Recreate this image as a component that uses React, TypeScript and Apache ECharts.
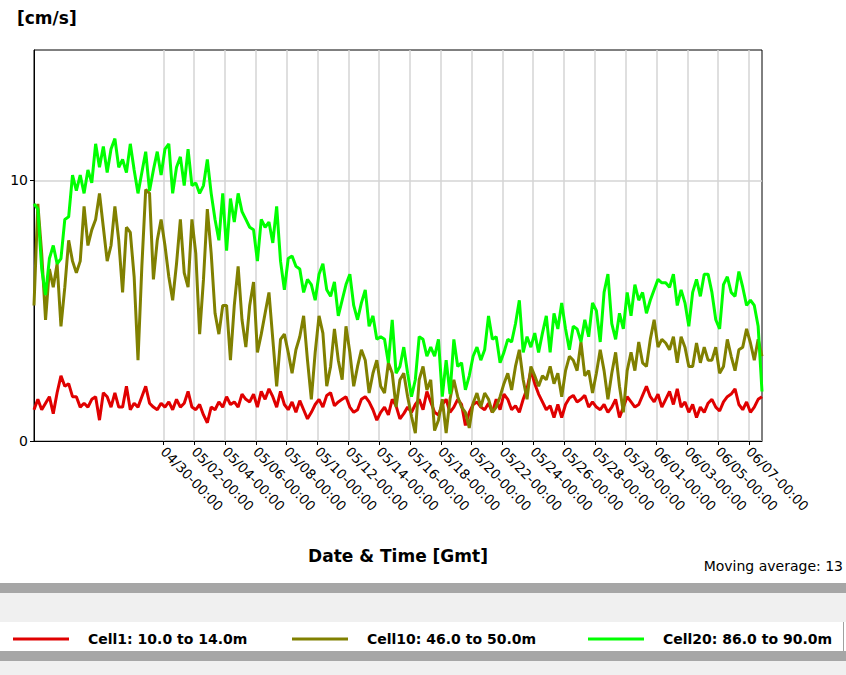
import React, { useEffect, useRef } from "react";
import * as echarts from "echarts";

// Series names and colours
const seriesNames = ["Cell1: 10.0 to 14.0m", "Cell10: 46.0 to 50.0m", "Cell20: 86.0 to 90.0m"];
const seriesColors = ["#e00000", "#808000", "#00ff00"];

// Sampling: days relative to 04/30-00:00 (first sample) and step in days
const startDay = -8.4;
const stepDay = 0.25;

// Speed [cm/s], moving average 13
const cell1 = [
  1.2, 1.6, 1.2, 1.45, 1.7, 1.05, 1.85, 2.5, 2.1, 2.2,
  1.7, 1.7, 1.3, 1.45, 1.3, 1.6, 1.7, 0.8, 1.85, 1.7,
  1.3, 1.85, 1.3, 1.3, 2.1, 1.2, 1.45, 1.3, 1.7, 2.1,
  1.45, 1.3, 1.2, 1.45,
  1.3, 1.5, 1.2, 1.6, 1.3, 1.45, 1.9, 1.3, 1.2, 1.4,
  1.0, 0.7, 1.3, 1.2, 1.5, 1.3, 1.7, 1.4, 1.5, 1.3,
  1.8, 1.6, 1.5, 1.8, 1.3, 1.9, 1.6, 2.0, 1.7, 1.3,
  1.9, 1.4, 1.2,
  1.5, 1.1, 1.55, 1.2, 0.85, 1.1, 1.4, 1.6, 1.3, 1.75,
  1.85, 1.35, 1.5, 1.6, 1.7, 1.3, 1.1, 1.2, 1.6, 1.7,
  1.5, 1.2, 0.8, 1.1, 1.3, 1.0, 1.6, 1.35, 0.85, 1.05,
  1.3, 1.1, 1.4,
  1.6, 1.2, 1.9, 1.5, 1.1, 1.0, 1.4, 1.6, 1.1, 1.3,
  1.6, 1.4, 0.6, 1.1, 1.4, 1.5, 1.3, 1.2, 1.45, 1.1,
  1.6, 1.2, 1.8, 1.6, 1.2, 1.35, 1.1, 1.6, 2.0, 2.7,
  2.2, 1.8,
  1.5, 1.2, 1.35, 0.9, 1.4, 0.9, 1.4, 1.65, 1.75, 1.5,
  1.6, 1.75, 1.3, 1.5, 1.3, 1.2, 1.4, 1.1, 1.3, 1.6,
  0.9, 1.3, 1.7, 1.5, 1.3, 1.4, 1.75, 2.1, 1.7, 1.5,
  1.8, 1.3,
  1.6, 1.9, 1.4, 2.0, 1.3, 1.5, 1.1, 1.4, 0.9, 1.3,
  1.1, 1.45, 1.6, 1.3, 1.15, 1.5, 1.7, 1.8, 2.0, 1.4,
  1.2, 1.5, 1.1, 1.3, 1.6, 1.7,
];
const cell10 = [
  5.2, 9.1, 7.2, 4.65, 6.6, 5.9, 6.8, 4.4, 5.9, 7.7,
  6.9, 6.45, 6.9, 9.0, 7.5, 8.1, 8.5, 9.5, 8.2, 6.9,
  7.5, 9.0, 7.7, 5.7, 8.2, 8.0, 6.3, 3.1, 6.7, 9.65,
  9.5, 6.2, 7.7, 8.5,
  7.5, 6.3, 5.4, 6.8, 8.5, 6.45, 5.9, 8.5, 7.2, 4.1,
  6.2, 8.9, 7.2, 4.9, 4.1, 5.2, 5.2, 3.1, 5.2, 6.7,
  4.65, 3.6, 5.2, 6.1, 3.4, 4.1, 4.9, 5.7, 3.9, 2.1,
  3.9, 4.1, 3.4,
  2.6, 3.5, 4.0, 4.8, 3.1, 1.6, 3.4, 4.8, 4.14, 2.1,
  2.86, 4.3, 3.1, 2.35, 4.4, 3.4, 2.1, 2.86, 3.5, 3.1,
  1.84, 2.6, 3.1, 2.1, 1.84, 3.0, 2.6, 1.3, 2.35, 2.6,
  1.7, 0.95, 0.3,
  2.35, 2.86, 1.96, 2.35, 0.4, 0.8, 1.6, 0.3, 1.6, 2.35,
  1.7, 1.3, 1.1, 0.5, 1.45, 1.84, 1.3, 1.84, 1.6, 1.1,
  1.3, 1.7, 2.2, 2.6, 1.96, 2.86, 3.5, 2.35, 1.6, 2.86,
  2.5, 2.1,
  2.5, 2.35, 2.86, 2.2, 2.6, 1.7, 2.7, 3.25, 3.1, 2.7,
  3.8, 2.5, 2.7, 1.84, 2.6, 3.5, 2.7, 1.6, 2.6, 3.4,
  2.1, 1.1, 2.7, 3.4, 2.7, 3.8, 3.0, 2.86, 3.9, 4.65,
  3.6, 3.9,
  3.76, 3.5, 4.0, 3.0, 4.0, 3.6, 2.86, 2.86, 3.76, 3.0,
  3.6, 3.1, 3.1, 3.6, 2.6, 2.86, 3.9, 3.25, 2.7, 3.5,
  3.6, 4.3, 3.76, 3.1, 3.9, 3.25,
];
const cell20 = [
  9.1, 8.9, 6.6, 5.6, 7.0, 7.5, 6.8, 7.0, 8.5, 8.6,
  10.2, 9.6, 10.2, 9.5, 10.4, 9.9, 11.4, 10.5, 11.3, 10.3,
  11.2, 11.6, 10.5, 10.8, 10.3, 11.4, 10.4, 9.5, 10.3, 11.1,
  9.6, 10.4, 11.1, 10.2,
  11.2, 11.4, 9.5, 10.5, 10.9, 9.8, 11.2, 9.8, 9.9, 9.5,
  9.8, 10.8, 9.5, 8.5, 7.7, 9.5, 7.3, 9.3, 8.4, 9.5,
  8.8, 8.5, 8.2, 8.1, 6.9, 8.5, 8.2, 8.4, 7.6, 9.0,
  6.9, 5.8, 7.0,
  7.1, 6.7, 6.6, 5.7, 6.2, 6.0, 5.4, 6.4, 6.8, 5.8,
  5.55, 6.1, 4.8, 5.4, 6.0, 6.4, 5.2, 4.65, 5.3, 5.8,
  4.4, 4.8, 3.9, 4.0, 3.9, 3.0, 4.65, 2.6, 2.86, 3.6,
  2.6, 1.7, 2.35,
  4.0, 3.9, 3.25, 3.6, 3.25, 3.9, 1.7, 3.1, 1.8, 3.9,
  2.86, 3.0, 1.96, 2.5, 3.25, 3.6, 3.1, 3.5, 4.8, 3.9,
  4.0, 3.0, 3.4, 3.9, 3.8, 4.5, 5.4, 3.4, 4.0, 3.6,
  4.14, 3.4,
  4.14, 4.8, 3.4, 4.9, 4.3, 5.3, 4.3, 3.5, 4.4, 4.3,
  3.8, 4.65, 4.0, 5.3, 5.0, 3.8, 5.7, 6.4, 4.5, 3.9,
  4.9, 4.3, 5.7, 4.8, 6.0, 5.4, 5.7, 4.9, 5.4, 5.8,
  6.2, 6.07,
  6.07, 5.9, 6.4, 5.2, 5.8, 5.3, 4.4, 5.7, 6.2, 5.55,
  6.4, 6.4, 5.7, 4.65, 4.3, 6.0, 6.3, 5.7, 5.55, 6.5,
  5.9, 5.2, 5.4, 5.2, 4.4, 1.9,
];

// X ticks (days from 04/30-00:00) and their labels
const tickDays = [0, 2, 4, 6, 8, 10, 12, 14, 16, 18, 20, 22, 24, 26, 28, 30, 32, 34, 36, 38];
const tickLabels = [
  "04/30-00:00", "05/02-00:00", "05/04-00:00", "05/06-00:00", "05/08-00:00",
  "05/10-00:00", "05/12-00:00", "05/14-00:00", "05/16-00:00", "05/18-00:00",
  "05/20-00:00", "05/22-00:00", "05/24-00:00", "05/26-00:00", "05/28-00:00",
  "05/30-00:00", "06/01-00:00", "06/03-00:00", "06/05-00:00", "06/07-00:00",
];
const yTicks = [0, 10];

export default function App() {
  const ref = useRef<HTMLDivElement>(null);
  useEffect(() => {
    if (!ref.current) return;
    const chart = echarts.init(ref.current, null, { renderer: "svg" });
    const hatch = "#a6a6a6";
    const all = [cell1, cell10, cell20];
    const xMax = startDay + stepDay * (cell1.length - 1);
    const legendLefts = [8, 287, 583];
    const font = "DejaVu Sans";

    chart.setOption({
      animation: false,
      backgroundColor: "#ffffff",
      grid: {
        left: 34,
        top: 50,
        width: 728,
        height: 391,
        show: true,
        borderColor: "#000",
        borderWidth: 1,
        backgroundColor: "transparent",
      },
      xAxis: {
        type: "value",
        min: startDay,
        max: xMax,
        axisLine: { show: true, onZero: false, lineStyle: { color: "#000", width: 1 } },
        axisTick: { show: true, length: 4, customValues: tickDays, lineStyle: { color: "#000" } },
        axisLabel: {
          customValues: tickDays,
          rotate: -46,
          margin: 8,
          color: "#000",
          fontFamily: font,
          fontSize: 13.5,
          formatter: (v: number) => {
            const i = tickDays.indexOf(Math.round(v));
            return i >= 0 ? tickLabels[i] : "";
          },
        },
        splitLine: { show: true, lineStyle: { color: "#d4d4d4", width: 1.5 } },
        name: "Date & Time [Gmt]",
        nameLocation: "middle",
        nameGap: 106,
        nameTextStyle: { fontFamily: font, fontWeight: "bold", fontSize: 17, color: "#000" },
      },
      yAxis: {
        type: "value",
        min: 0,
        max: 15,
        axisLine: { show: true, onZero: false, lineStyle: { color: "#000", width: 1 } },
        axisTick: { show: true, length: 4, customValues: yTicks, lineStyle: { color: "#000" } },
        axisLabel: { customValues: yTicks, margin: 6, color: "#000", fontFamily: font, fontSize: 14 },
        splitLine: { show: true, lineStyle: { color: "#d4d4d4", width: 1.5 } },
      },
      legend: seriesNames.map((n, i) => ({
        data: [n],
        left: legendLefts[i],
        top: 627,
        icon: "rect",
        itemWidth: 56,
        itemHeight: 3,
        selectedMode: false,
        textStyle: { fontFamily: font, fontWeight: "bold", fontSize: 14, color: "#000", padding: [0, 0, 0, 14] },
      })),
      series: all.map((vals, i) => ({
        type: "line",
        name: seriesNames[i],
        data: vals.map((v, j) => [startDay + j * stepDay, v]),
        showSymbol: false,
        symbol: "none",
        lineStyle: { color: seriesColors[i], width: 3 },
        itemStyle: { color: seriesColors[i] },
        clip: true,
      })),
      graphic: [
        { type: "text", left: 17, top: 9, style: { text: "[cm/s]", font: `bold 17px "${font}"`, fill: "#000" } },
        { type: "text", right: 3, top: 559, style: { text: "Moving average: 13", font: `14px "${font}"`, fill: "#000" } },
        { type: "rect", shape: { x: 0, y: 583, width: 846, height: 10 }, style: { fill: hatch } },
        { type: "rect", shape: { x: 0, y: 593, width: 846, height: 29 }, style: { fill: "#f0f0f0" } },
        { type: "rect", shape: { x: 0, y: 622, width: 843, height: 29 }, style: { fill: "#ffffff" } },
        { type: "line", shape: { x1: 843.5, y1: 622, x2: 843.5, y2: 651 }, style: { stroke: "#a0a0a0", lineWidth: 1 } },
        { type: "rect", shape: { x: 0, y: 651, width: 846, height: 10 }, style: { fill: hatch } },
        { type: "rect", shape: { x: 0, y: 661, width: 846, height: 14 }, style: { fill: "#f0f0f0" } },
      ],
    });
    return () => chart.dispose();
  }, []);
  return (
    <div
      ref={ref}
      style={{ position: "fixed", left: 0, top: 0, width: 846, height: 675, background: "#fff" }}
    />
  );
}
